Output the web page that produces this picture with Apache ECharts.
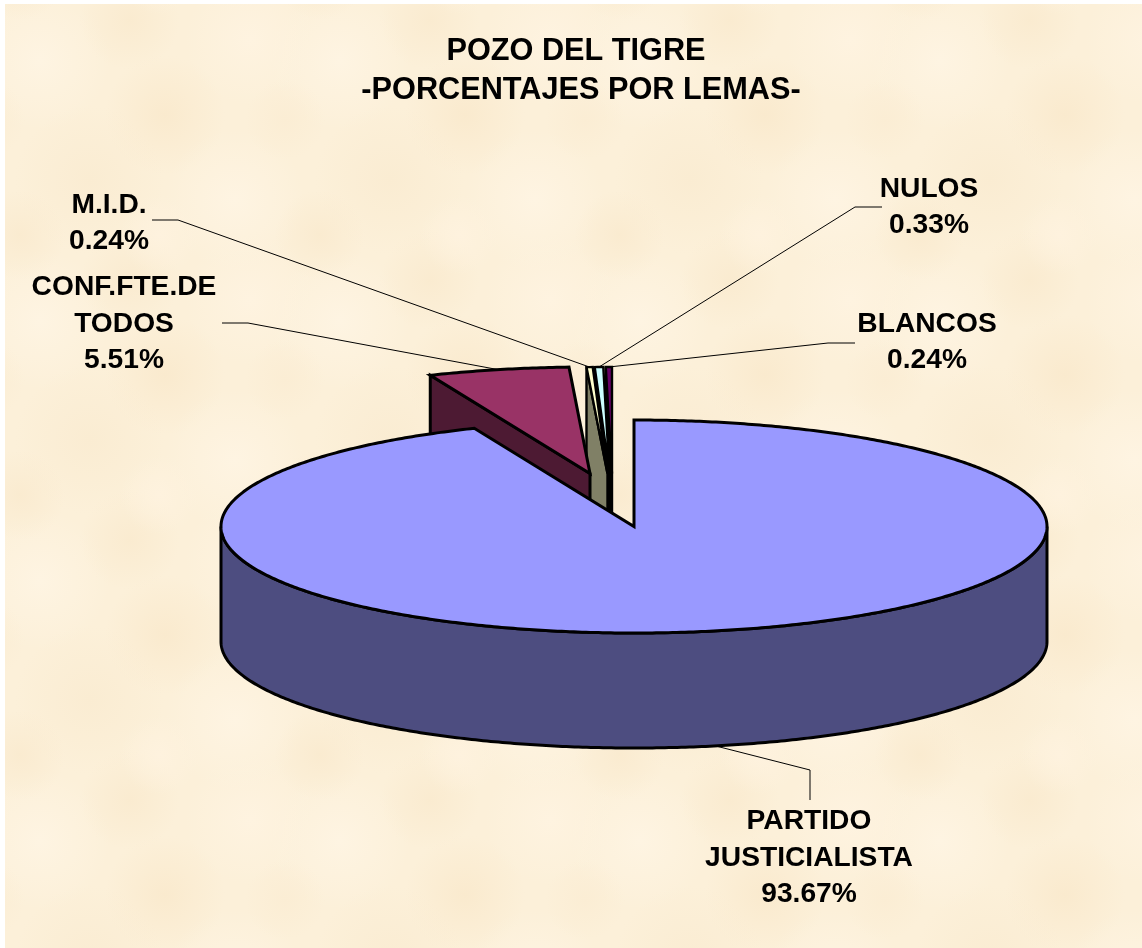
<!DOCTYPE html>
<html>
<head>
<meta charset="utf-8">
<title>Pozo del Tigre</title>
<style>html,body{margin:0;padding:0;background:#fff}#chart{width:1142px;height:948px}</style>
<script src="https://cdn.jsdelivr.net/npm/echarts@6/dist/echarts.min.js"></script>
</head>
<body>
<div id="chart"></div>
<script>
// datos
var names = ['PARTIDO\nJUSTICIALISTA', 'CONF.FTE.DE\nTODOS', 'M.I.D.', 'NULOS', 'BLANCOS'];
var values = [93.67, 5.51, 0.24, 0.33, 0.24];
var titleLines = ['POZO DEL TIGRE', '-PORCENTAJES POR LEMAS-'];

// colores
var topColors = ['#9999FF', '#993366', '#FFFFCC', '#CCFFFF', '#660066'];
var sideColors = ['#4D4D80', '#4D1A33', '#808066', '#000000', '#000000'];

// geometria de la torta
var cx = 634, cy = 526.5, rx = 413, ry = 106.5, depth = 115;
var explode = [[0, 0], [-44, -53], [-26.5, -53], [-24.5, -53], [-22, -53]];
var strokes = [3, 3, 2.4, 2.4, 2.4];
var drawOrder = [5, 4, 3, 2, 1];
var labelPos = [[809, 858], [124, 324], [109, 223], [929, 207], [927, 342]];
var elbows = [
	[[810, 800], [810, 770]],
	[[222, 323], [248, 323]],
	[[152, 220], [178, 220]],
	[[882, 207], [855, 207]],
	[[855, 343], [828, 343]]
];

var total = values.reduce(function(a, b) { return a + b; }, 0);
var FONT = '"Liberation Sans", Arial, sans-serif';

function angleOf(v) {
	return echarts.number.linearMap(v, [0, total], [0, Math.PI * 2]);
}

function pt(ox, oy, a, dy) {
	return [cx + ox + rx * Math.sin(a), cy + oy - ry * Math.cos(a) + (dy || 0)];
}

function arc(ox, oy, a0, a1, dy) {
	var pts = [], n = Math.max(2, Math.ceil(Math.abs(a1 - a0) / 0.01));
	for (var i = 0; i <= n; i++) {
		pts.push(pt(ox, oy, a0 + (a1 - a0) * i / n, dy));
	}
	return pts;
}

function edgeStyle(fill, width) {
	return { fill: fill, stroke: '#000', lineWidth: width, lineJoin: 'miter' };
}

function renderSlice(params, api) {
	var i = params.dataIndex;
	var before = 0;
	for (var k = 0; k < i; k++) before += values[k];
	var a0 = angleOf(before), a1 = angleOf(before + api.value(0));
	var ox = explode[i][0], oy = explode[i][1];
	var z = drawOrder[i] * 10;
	var children = [];
	var anchor;
	var mid = (a0 + a1) / 2;

	if (i === 0) {
		// pared frontal de la elipse
		var front = arc(ox, oy, Math.PI / 2, Math.PI * 3 / 2, 0)
			.concat(arc(ox, oy, Math.PI * 3 / 2, Math.PI / 2, depth));
		children.push({ type: 'polygon', z2: z, shape: { points: front }, style: edgeStyle(sideColors[i], strokes[i]) });
		anchor = pt(ox, oy, mid, depth);
	} else {
		// cara del corte
		var side = [pt(ox, oy, a0), [cx + ox, cy + oy], [cx + ox, cy + oy + depth], pt(ox, oy, a0, depth)];
		children.push({ type: 'polygon', z2: z, shape: { points: side }, style: edgeStyle(sideColors[i], strokes[i]) });
		anchor = pt(ox, oy, mid);
	}
	var surface = [[cx + ox, cy + oy]].concat(arc(ox, oy, a0, a1, 0));
	children.push({ type: 'polygon', z2: z + 1, shape: { points: surface }, style: edgeStyle(topColors[i], strokes[i]) });

	// linea guia y rotulo
	children.push({
		type: 'polyline', z2: 100,
		shape: { points: elbows[i].concat([anchor]) },
		style: { fill: null, stroke: '#000', lineWidth: 1 }
	});
	children.push({
		type: 'text', z2: 101,
		x: labelPos[i][0], y: labelPos[i][1],
		style: {
			text: names[i] + '\n' + api.value(0).toFixed(2) + '%',
			font: 'bold 28.2px ' + FONT,
			lineHeight: 36.5,
			fill: '#000',
			align: 'center',
			verticalAlign: 'middle'
		}
	});
	return { type: 'group', children: children };
}

// textura de pergamino (las manchas se repiten en los bordes para que no se note el corte)
function parchment() {
	var W = 300, H = 260;
	var c = document.createElement('canvas');
	c.width = W; c.height = H;
	var g = c.getContext('2d');
	g.fillStyle = '#FCF0D9';
	g.fillRect(0, 0, W, H);
	var blots = [[40, 60, 70, '#FEF4E2'], [165, 115, 60, '#FAEACE'], [250, 40, 65, '#FEF3E0'],
		[90, 180, 75, '#FAECD2'], [235, 200, 70, '#FEF4E2'], [20, 235, 45, '#FAEBD0'],
		[130, 20, 50, '#FAEBD0'], [285, 120, 40, '#FBEDD4'], [160, 235, 40, '#FEF2DE']];
	blots.forEach(function(b) {
		[-W, 0, W].forEach(function(sx) {
			[-H, 0, H].forEach(function(sy) {
				var x = b[0] + sx, y = b[1] + sy;
				var r = g.createRadialGradient(x, y, 0, x, y, b[2]);
				r.addColorStop(0, b[3]);
				r.addColorStop(1, b[3] + '00');
				g.fillStyle = r;
				g.fillRect(x - b[2], y - b[2], b[2] * 2, b[2] * 2);
			});
		});
	});
	return c;
}

var chart = echarts.init(document.getElementById('chart'), null, { renderer: 'canvas' });
chart.setOption({
	animation: false,
	backgroundColor: '#fff',
	title: [
		{ text: titleLines[0], left: 571, top: 31, textAlign: 'center',
			textStyle: { fontFamily: FONT, fontWeight: 'bold', fontSize: 30.7, color: '#000' } },
		{ text: titleLines[1], left: 576, top: 70, textAlign: 'center',
			textStyle: { fontFamily: FONT, fontWeight: 'bold', fontSize: 30.7, color: '#000' } }
	],
	graphic: [{
		type: 'rect', z: -10, silent: true,
		shape: { x: 5, y: 4, width: 1137, height: 944 },
		style: { fill: { image: parchment(), repeat: 'repeat' } }
	}],
	series: [{
		type: 'custom',
		coordinateSystem: 'none',
		silent: true,
		renderItem: renderSlice,
		encode: { value: 0 },
		data: values.map(function(v) { return [v]; })
	}]
});
</script>
</body>
</html>
